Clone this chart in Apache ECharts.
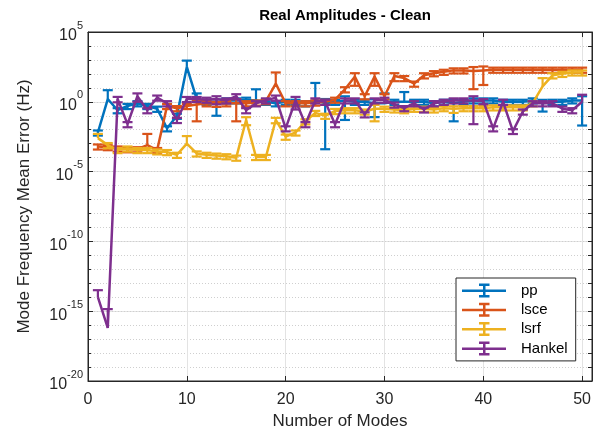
<!DOCTYPE html>
<html>
<head>
<meta charset="utf-8">
<script src="https://cdn.jsdelivr.net/npm/echarts@6/dist/echarts.min.js"></script>
<style>html,body{margin:0;padding:0;background:#fff}#c{width:603px;height:435px}</style>
</head>
<body>
<div id="c"></div>
<script>
const modes = [1,2,3,4,5,6,7,8,9,10,11,12,13,14,15,16,17,18,19,20,21,22,23,24,25,26,27,28,29,30,31,32,33,34,35,36,37,38,39,40,41,42,43,44,45,46,47,48,49,50];
const seriesNames = ['pp','lsce','lsrf','Hankel'];
const colors = ['#0072BD','#D95319','#EDB120','#7E2F8E'];
const yTickExponents = [-20,-15,-10,-5,0,5];
const xTicks = [0,10,20,30,40,50];

const pp = [6.3e-3,1.58,0.25,0.5,0.79,0.5,0.32,0.0126,0.1,316,1.58,1.0,0.79,1.26,1.26,1.41,1.26,1.0,0.79,1.0,1.0,0.79,1.41,0.79,1.0,1.26,1.0,1.0,0.79,0.79,1.0,1.0,1.0,1.0,0.79,1.0,0.79,1.0,1.26,1.26,1.26,1.0,1.0,1.0,1.26,0.79,1.0,1.0,1.26,1.26];
const ppErr = [2.5e-3,5.2,0.1,0.2,0.32,0.2,0.13,0.005,0.04,575,2.4,0.4,0.69,0.5,0.5,0.56,6.6,0.4,0.32,0.4,0.4,0.32,21,0.7896,0.4,1.21,0.4,0.4,0.71,3.2,0.4,4,0.4,0.4,0.32,0.4,0.75,0.4,0.5,0.5,0.5,0.4,0.4,0.4,0.5,0.59,0.4,0.4,0.5,1.24];

const lsce = [6.3e-4,5.6e-4,4.5e-4,4e-4,4e-4,7.9e-4,3.5e-4,0.5,0.35,0.5,0.63,0.79,0.71,0.79,0.79,0.79,0.89,1.12,20,0.79,0.79,0.79,0.89,1.0,1.41,7.9,63,2.5,63,2.5,71,50,20,79,112,141,178,178,158,178,200,200,200,200,200,200,200,200,200,200];
const lsceErr = [2.5e-4,2.2e-4,1.8e-4,1.6e-4,1.6e-4,4.2e-3,1.4e-4,0.2,0.14,0.2,0.59,0.32,0.28,0.32,0.75,0.32,0.36,0.45,106,0.32,0.32,0.32,0.36,0.4,0.56,3.2,49,1.0,49,1.0,41,20,8,32,45,56,71,71,150,162,80,80,80,80,80,80,80,80,80,80];

const lsrf = [2.5e-3,7.9e-4,3.5e-4,4.5e-4,3.5e-4,3.5e-4,2.8e-4,2.5e-4,1.6e-4,1e-3,2e-4,1.6e-4,1.4e-4,1.26e-4,1e-4,0.05,1.12e-4,1.12e-4,0.05,3.2e-3,6.3e-3,0.04,0.16,0.1,0.22,0.25,0.25,0.2,0.32,0.32,0.28,0.25,0.32,0.32,0.28,0.35,0.32,0.35,0.35,0.35,0.4,0.4,0.4,0.4,0.79,12.6,79,100,126,126];
const lsrfErr = [2.5e-3,3.2e-4,1.4e-4,1.8e-4,1.4e-4,1.4e-4,1.1e-4,1e-4,6.4e-5,2.5e-3,8e-5,6.4e-5,5.6e-5,5e-5,4e-5,0.029,4.5e-5,4.5e-5,0.021,1.3e-3,2.5e-3,0.016,0.064,0.04,0.09,0.1,0.1,0.08,0.28,0.13,0.11,0.1,0.13,0.13,0.11,0.14,0.16,0.14,0.14,0.14,0.16,0.16,0.16,0.16,0.32,37,32,40,50,50];

const hankel = [1e-14,6.3e-17,1.58,0.025,2.5,0.25,2.0,0.79,0.05,1.58,1.58,1.41,1.58,1.26,2.5,0.25,0.79,1.26,2.0,0.0126,1.26,0.025,1.26,1.0,0.025,1.26,1.26,0.126,1.26,1.41,0.63,0.35,0.79,0.28,0.79,1.0,1.26,1.26,1.26,1.12,0.0126,1.0,0.0079,0.2,0.79,0.79,0.79,0.32,0.25,1.0];
const hankelErr = [2.2e-14,1.35e-15,0.66,0.01,1.5,0.1,0.8,0.32,0.02,0.63,0.63,0.56,0.92,0.5,1.0,0.1,0.32,0.5,0.8,0.005,0.98,0.01,0.5,0.4,0.01,0.5,0.5,0.05,0.5,0.56,0.25,0.14,0.32,0.11,0.32,0.4,0.5,0.5,1.235,0.45,0.005,0.4,0.003,0.08,0.32,0.32,0.32,0.13,0.1,2.2];

const values = [pp, lsce, lsrf, hankel];
const errors = [ppErr, lsceErr, lsrfErr, hankelErr];

const FONT = '"Liberation Sans", Arial, Helvetica, sans-serif';
const AX = '#262626';
const ICON = 'path://M0,7H44V9.5H0Z M21,2H23.5V14H21Z M17,1H27.5V3.5H17Z M17,12.5H27.5V15H17Z';

function makeErrorRender(color){
  return function(params, api){
    const x = api.value(0), v = api.value(1), lo = api.value(2), hi = api.value(3);
    const top = api.coord([x, hi]);
    const bot = lo > 0 ? api.coord([x, lo]) : api.coord([x, v]);
    const w = 5;
    const style = {stroke: color, lineWidth: 2.2, fill: null};
    const ch = [
      {type:'line', shape:{x1:top[0], y1:top[1], x2:bot[0], y2:bot[1]}, style},
      {type:'line', shape:{x1:top[0]-w, y1:top[1], x2:top[0]+w, y2:top[1]}, style}
    ];
    if (lo > 0) ch.push({type:'line', shape:{x1:bot[0]-w, y1:bot[1], x2:bot[0]+w, y2:bot[1]}, style});
    return {type:'group', children: ch};
  };
}

const series = [];
seriesNames.forEach((name, k) => {
  const vals = values[k], errs = errors[k];
  series.push({
    type:'custom', name, xAxisIndex:0, yAxisIndex:0, clip:true,
    itemStyle:{color: colors[k]},
    encode:{x:0, y:1},
    data: modes.map((m,i) => [m, vals[i], vals[i]-errs[i], vals[i]+errs[i]]),
    renderItem: makeErrorRender(colors[k]),
    z: 3 + k*2
  });
  series.push({
    type:'line', name, xAxisIndex:0, yAxisIndex:0, clip:true,
    data: modes.map((m,i) => [m, vals[i]]),
    symbol:'none', showSymbol:false,
    lineStyle:{width:2.5, color: colors[k]},
    itemStyle:{color: colors[k]},
    z: 4 + k*2
  });
});

const chart = echarts.init(document.getElementById('c'), null, {renderer:'canvas'});
chart.setOption({
  animation:false,
  backgroundColor:'#fff',
  title:{
    text:'Real Amplitudes - Clean', left:340, top:3, textAlign:'center',
    textStyle:{fontFamily:FONT, fontSize:15, fontWeight:'bold', color:'#000'}
  },
  grid:{left:88, right:11, top:32, bottom:54, show:true, borderColor:AX, borderWidth:1, backgroundColor:'transparent'},
  legend:{
    orient:'vertical', left:456, top:278,
    data: seriesNames.map(n => ({name:n, icon:ICON})),
    itemWidth:44, itemHeight:16, itemGap:4.3,
    padding:[5,8,5,6],
    backgroundColor:'#fff', borderColor:AX, borderWidth:1,
    selectedMode:false,
    textStyle:{fontFamily:FONT, fontSize:15, color:'#000', padding:[0,0,0,10]}
  },
  xAxis:[{
    type:'value', min:0, max:51, interval:10, position:'bottom',
    name:'Number of Modes', nameLocation:'middle', nameGap:32,
    nameTextStyle:{fontFamily:FONT, fontSize:17, color:AX},
    axisLine:{show:true, onZero:false, lineStyle:{color:AX}},
    axisTick:{show:true, inside:true, length:5, lineStyle:{color:AX}},
    axisLabel:{fontFamily:FONT, fontSize:16, color:AX, margin:11,
      formatter: v => (xTicks.indexOf(v) >= 0 ? String(v) : '')},
    splitLine:{show:true, lineStyle:{color:'#e3e3e3', width:1}}
  },{
    type:'value', min:0, max:51, interval:10, position:'top',
    axisLine:{show:true, onZero:false, lineStyle:{color:AX}},
    axisTick:{show:true, inside:true, length:5, lineStyle:{color:AX}},
    axisLabel:{show:false}, splitLine:{show:false}
  }],
  yAxis:[{
    type:'log', logBase:10, min:1e-20, max:1e5, interval:5, position:'left',
    name:'Mode Frequency Mean Error (Hz)', nameLocation:'middle', nameGap:55,
    nameTextStyle:{fontFamily:FONT, fontSize:17, color:AX},
    axisLine:{show:true, lineStyle:{color:AX}},
    axisTick:{show:true, inside:true, length:5, lineStyle:{color:AX}},
    axisLabel:{
      margin:5,
      formatter: v => {
        const e = Math.round(Math.log10(v));
        return yTickExponents.indexOf(e) >= 0 ? '{b|10}{s|' + e + '}' : '';
      },
      rich:{
        b:{fontFamily:FONT, fontSize:16, color:AX, lineHeight:24, verticalAlign:'bottom'},
        s:{fontFamily:FONT, fontSize:11, color:AX, lineHeight:12, verticalAlign:'top'}
      }
    },
    splitLine:{show:true, lineStyle:{color:'#e3e3e3', width:1}}
  },{
    type:'log', logBase:10, min:1e-20, max:1e5, interval:1, position:'left',
    axisLine:{show:false},
    axisTick:{show:true, inside:true, length:3, lineStyle:{color:AX}},
    axisLabel:{show:false},
    splitLine:{show:true, lineStyle:{color:'#cfcfcf', width:1, type:[1,2]}}
  },{
    type:'log', logBase:10, min:1e-20, max:1e5, interval:1, position:'right',
    axisLine:{show:true, lineStyle:{color:AX}},
    axisTick:{show:true, inside:true, length:4, lineStyle:{color:AX}},
    axisLabel:{show:false},
    splitLine:{show:false}
  }],
  series
});
</script>
</body>
</html>
